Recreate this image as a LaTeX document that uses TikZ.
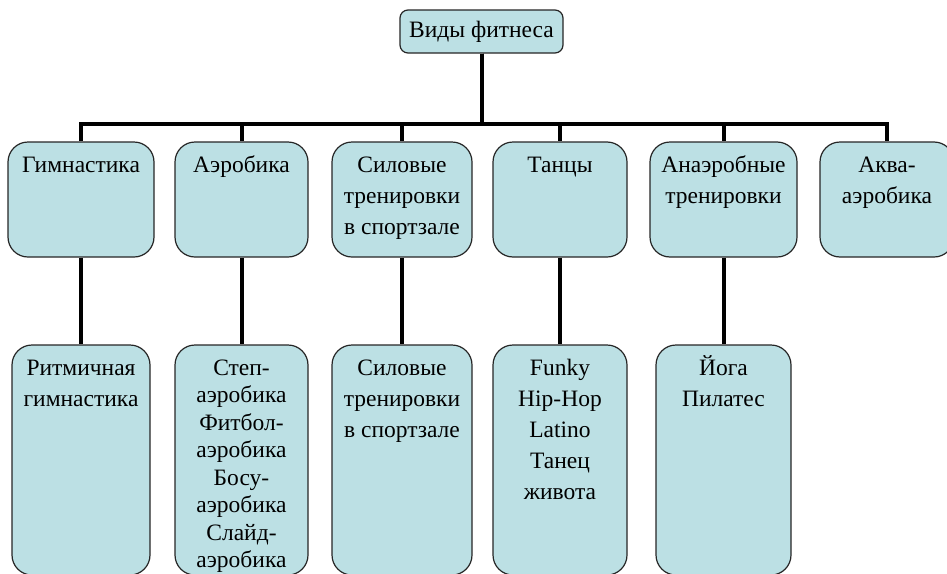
\documentclass[tikz,border=0pt]{standalone}
\usepackage{fontspec}
\setmainfont{Liberation Serif}
\usetikzlibrary{positioning}
\definecolor{boxfill}{RGB}{188,224,228}
\newcommand*{\stack}[1]{\begin{tabular}[t]{@{}c@{}}#1\end{tabular}}

\begin{document}
\begin{tikzpicture}[x=1pt,y=-1pt,
    every node/.style={font=\fontsize{23.5}{31}\selectfont},
    kind/.style={draw=black!85,fill=boxfill,line width=1.2pt,rounded corners=20pt,
      inner xsep=2pt,inner ysep=0pt},
    upper/.style={kind,minimum height=115pt,text height=30pt,text depth=85pt},
    lower/.style={kind,minimum height=230pt,text height=30pt,text depth=200pt},
    link/.style={line width=4pt,black}]
  \useasboundingbox (0,0) rectangle (947,573);
  % root
  \node[kind,rounded corners=8pt,minimum width=163pt,minimum height=43pt] (root) at (481.5,31.5) {Виды фитнеса};
  % first level
  \node[upper,minimum width=146pt] (gym) at (81,199.5) {\stack{Гимнастика}};
  \node[upper,minimum width=133pt] (aero) at (241.5,199.5) {\stack{Аэробика}};
  \node[upper,minimum width=140pt] (sila) at (402,199.5) {\stack{Силовые\\тренировки\\в спортзале}};
  \node[upper,minimum width=134pt] (dance) at (560,199.5) {\stack{Танцы}};
  \node[upper,minimum width=147pt] (anaer) at (723.5,199.5) {\stack{Анаэробные\\тренировки}};
  \node[upper,minimum width=134pt] (aqua) at (887,199.5) {\stack{Аква-\\аэробика}};
  % second level
  \node[lower,minimum width=138pt] (gym2) at (81,460) {\stack{Ритмичная\\гимнастика}};
  \node[lower,minimum width=133pt,font=\fontsize{23.5}{27.5}\selectfont] (aero2) at (241.5,460)
    {\stack{Степ-\\аэробика\\Фитбол-\\аэробика\\Босу-\\аэробика\\Слайд-\\аэробика}};
  \node[lower,minimum width=140pt] (sila2) at (402,460) {\stack{Силовые\\тренировки\\в спортзале}};
  \node[lower,minimum width=134pt] (dance2) at (560,460) {\stack{Funky\\Hip-Hop\\Latino\\Танец\\живота}};
  \node[lower,minimum width=135pt] (anaer2) at (723.5,460) {\stack{Йога\\Пилатес}};
  % connectors
  \foreach \n in {gym,aero,sila,dance,anaer,aqua}
    \draw[link] (root.south) -- ++(0,70) -| (\n.north);
  \foreach \a/\b in {gym/gym2,aero/aero2,sila/sila2,dance/dance2,anaer/anaer2}
    \draw[link] (\a) -- (\b);
\end{tikzpicture}
\end{document}
